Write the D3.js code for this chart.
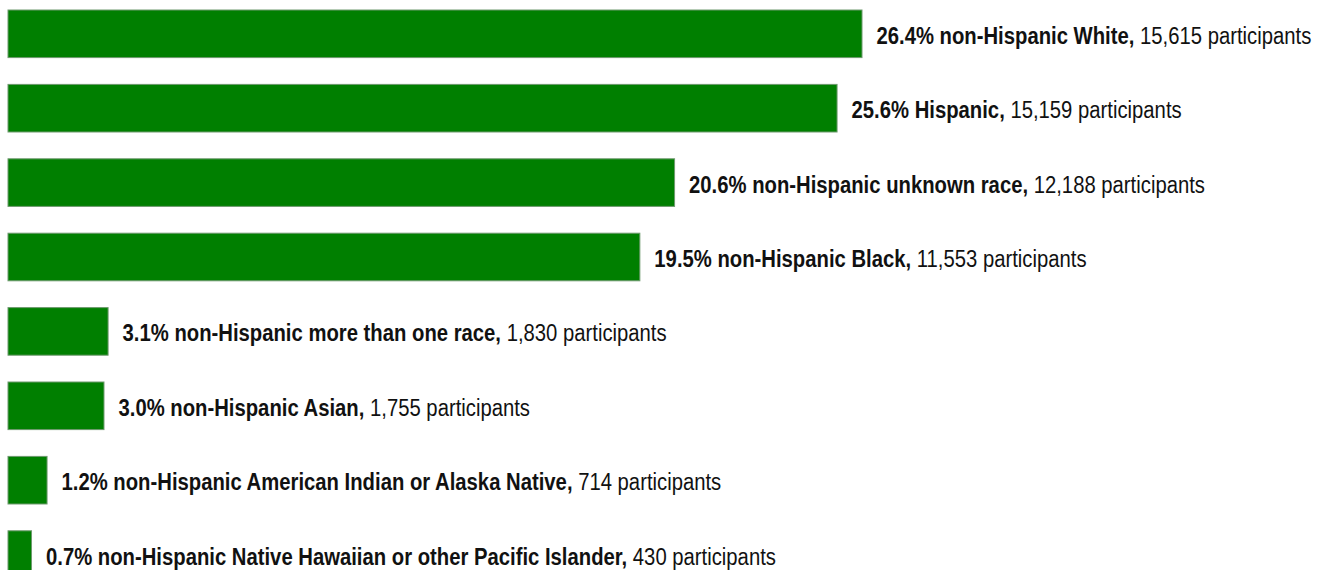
<!DOCTYPE html>
<html>
<head>
<meta charset="utf-8">
<script src="https://cdn.jsdelivr.net/npm/d3@7"></script>
<style>
  html, body { margin: 0; padding: 0; background: #fff; overflow: hidden; }
  svg { display: block; }
  text { font-family: "Liberation Sans", Arial, sans-serif; font-size: 23.5px; fill: #111; }
</style>
</head>
<body>
<svg id="chart" width="1324" height="570"></svg>
<script>
const categories = [
  "non-Hispanic White",
  "Hispanic",
  "non-Hispanic unknown race",
  "non-Hispanic Black",
  "non-Hispanic more than one race",
  "non-Hispanic Asian",
  "non-Hispanic American Indian or Alaska Native",
  "non-Hispanic Native Hawaiian or other Pacific Islander"
];
const percents = ["26.4%", "25.6%", "20.6%", "19.5%", "3.1%", "3.0%", "1.2%", "0.7%"];
const participants = [15615, 15159, 12188, 11553, 1830, 1755, 714, 430];

const svg = d3.select("#chart");
const x = d3.scaleLinear().domain([0, 15615]).range([8, 862]);

const pitch = 74.4, barH = 47.6, top0 = 10;
const y = d3.scaleBand()
  .domain(categories)
  .range([top0, top0 + pitch * categories.length - (pitch - barH)])
  .paddingInner((pitch - barH) / pitch)
  .paddingOuter(0);

const fmt = d3.format(",");

svg.selectAll("rect.bar")
  .data(categories)
  .join("rect")
  .attr("class", "bar")
  .attr("x", x(0))
  .attr("y", d => y(d))
  .attr("width", (d, i) => x(participants[i]) - x(0))
  .attr("height", y.bandwidth())
  .attr("fill", "#007f00")
  .attr("stroke", "#6e9a6e")
  .attr("stroke-width", 1);

const labels = svg.selectAll("text.lbl")
  .data(categories)
  .join("text")
  .attr("class", "lbl")
  .attr("x", (d, i) => x(participants[i]) + 14.5)
  .attr("y", d => y(d) + y.bandwidth() / 2 + 10);

labels.append("tspan")
  .attr("font-weight", "bold")
  .text((d, i) => percents[i] + " " + d + ",");
labels.append("tspan")
  .text((d, i) => " " + fmt(participants[i]) + " participants");

// condense horizontally to match the reference's narrow, squeezed typeface
const w0 = labels.nodes()[0].getComputedTextLength();
const k = 435 / w0;
labels.attr("transform", function(d, i) {
  const lx = x(participants[i]) + 14.5;
  return `translate(${lx},0) scale(${k},1) translate(${-lx},0)`;
});
</script>
</body>
</html>
